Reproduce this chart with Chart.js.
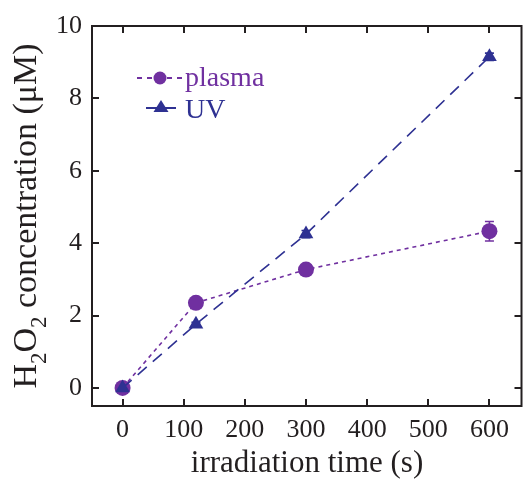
<!DOCTYPE html>
<html>
<head>
<meta charset="utf-8">
<script src="https://cdn.jsdelivr.net/npm/chart.js@4.4.1/dist/chart.umd.min.js"></script>
<style>
html,body{margin:0;padding:0;background:#fff;overflow:hidden;}
#c{display:block;}
</style>
</head>
<body>
<canvas id="c" width="523" height="480" style="width:523px;height:480px"></canvas>
<script>
const xValues = [0, 120, 300, 600];
const plasmaValues = [0, 2.35, 3.27, 4.33];
const plasmaErr = [0.05, 0.08, 0.08, 0.27];
const uvValues = [0, 1.76, 4.25, 9.15];
const uvErr = [0.05, 0.05, 0.1, 0.1];
const xTicks = [0, 100, 200, 300, 400, 500, 600];
const yTicks = [0, 2, 4, 6, 8, 10];
const seriesNames = ['plasma', 'UV'];
const xTitle = 'irradiation time (s)';

const PURPLE = '#7030a0';
const BLUE = '#2e3192';
const INK = '#231f20';
const SERIF = '"Liberation Serif", "Times New Roman", serif';

const pts = (ys) => xValues.map((x, i) => ({x: x, y: ys[i]}));

const decor = {
  id: 'decor',
  beforeDatasetsDraw(chart) {
    const ctx = chart.ctx, xs = chart.scales.x, ys = chart.scales.y;
    const sets = [[plasmaValues, plasmaErr, PURPLE], [uvValues, uvErr, BLUE]];
    ctx.save();
    ctx.lineWidth = 1.6;
    sets.forEach(([vals, errs, col]) => {
      ctx.strokeStyle = col;
      vals.forEach((v, i) => {
        const px = xs.getPixelForValue(xValues[i]);
        const y1 = ys.getPixelForValue(v + errs[i]);
        const y2 = ys.getPixelForValue(v - errs[i]);
        ctx.beginPath();
        ctx.moveTo(px, y1); ctx.lineTo(px, y2);
        ctx.moveTo(px - 4.5, y1); ctx.lineTo(px + 4.5, y1);
        ctx.moveTo(px - 4.5, y2); ctx.lineTo(px + 4.5, y2);
        ctx.stroke();
      });
    });
    ctx.restore();
  },
  afterDraw(chart) {
    const ctx = chart.ctx, a = chart.chartArea, xs = chart.scales.x, ys = chart.scales.y;
    ctx.save();
    const right = chart.width - 1.5;
    ctx.strokeStyle = INK;
    ctx.lineWidth = 2;
    ctx.strokeRect(a.left, a.top, right - a.left, a.bottom - a.top);
    const TL = 7;
    ctx.beginPath();
    xTicks.forEach(v => {
      const p = Math.round(xs.getPixelForValue(v));
      ctx.moveTo(p, a.bottom); ctx.lineTo(p, a.bottom - TL);
      ctx.moveTo(p, a.top); ctx.lineTo(p, a.top + TL);
    });
    yTicks.forEach(v => {
      const p = Math.round(ys.getPixelForValue(v));
      ctx.moveTo(a.left, p); ctx.lineTo(a.left + TL, p);
      ctx.moveTo(right, p); ctx.lineTo(right - TL, p);
    });
    ctx.stroke();

    // x title
    ctx.fillStyle = INK;
    ctx.font = '31px ' + SERIF;
    ctx.textAlign = 'center';
    ctx.textBaseline = 'alphabetic';
    ctx.fillText(xTitle, 307, 472);

    // y title with subscripts
    const parts = [['H', 0], ['2', 1], ['O', 0], ['2', 1], [' concentration (\u03bcM)', 0]];
    const big = '34px ' + SERIF, small = '23px ' + SERIF;
    let total = 0;
    parts.forEach(([t, s]) => { ctx.font = s ? small : big; total += ctx.measureText(t).width; });
    ctx.translate(36, 216);
    ctx.rotate(-Math.PI / 2);
    ctx.textAlign = 'left';
    let cx = -total / 2;
    parts.forEach(([t, s]) => {
      ctx.font = s ? small : big;
      ctx.fillText(t, cx, s ? 10 : 0);
      cx += ctx.measureText(t).width;
    });
    ctx.setTransform(1, 0, 0, 1, 0, 0);

    // legend
    ctx.lineWidth = 1.8;
    ctx.strokeStyle = PURPLE;
    ctx.setLineDash([5, 5]);
    ctx.beginPath(); ctx.moveTo(137, 78); ctx.lineTo(182, 78); ctx.stroke();
    ctx.setLineDash([]);
    ctx.fillStyle = PURPLE;
    ctx.beginPath(); ctx.arc(160, 78, 6.5, 0, Math.PI * 2); ctx.fill();
    ctx.font = '28px ' + SERIF;
    ctx.textAlign = 'left';
    ctx.fillText(seriesNames[0], 185, 86);
    ctx.strokeStyle = BLUE;
    ctx.setLineDash([12, 6]);
    ctx.beginPath(); ctx.moveTo(146, 108); ctx.lineTo(178, 108); ctx.stroke();
    ctx.setLineDash([]);
    ctx.fillStyle = BLUE;
    ctx.beginPath();
    ctx.moveTo(161, 100); ctx.lineTo(168.5, 112); ctx.lineTo(153.5, 112); ctx.closePath(); ctx.fill();
    ctx.fillText(seriesNames[1], 185, 118);
    ctx.restore();
  }
};

new Chart(document.getElementById('c'), {
  type: 'scatter',
  data: {
    datasets: [
      {
        label: seriesNames[0], data: pts(plasmaValues), order: 1,
        showLine: true, borderColor: PURPLE, backgroundColor: PURPLE,
        borderWidth: 1.6, borderDash: [4, 4], pointStyle: 'circle',
        pointRadius: 8, pointBorderWidth: 0, pointHoverRadius: 8
      },
      {
        label: seriesNames[1], data: pts(uvValues), order: 0,
        showLine: true, borderColor: BLUE, backgroundColor: BLUE,
        borderWidth: 1.6, borderDash: [12, 8], pointStyle: 'triangle',
        pointRadius: 8.5, pointBorderWidth: 0, pointHoverRadius: 8.5
      }
    ]
  },
  options: {
    responsive: false, animation: false, devicePixelRatio: 1,
    layout: {padding: {top: 26, right: 0, left: 0, bottom: 0}},
    plugins: {legend: {display: false}, tooltip: {enabled: false}},
    scales: {
      x: {
        type: 'linear', min: -50, max: 641,
        afterBuildTicks: s => { s.ticks = xTicks.map(v => ({value: v})); },
        afterFit: s => { s.height = 74; },
        grid: {display: false, drawTicks: false}, border: {display: false},
        ticks: {font: {family: SERIF, size: 26}, color: INK, padding: 9, maxRotation: 0, autoSkip: false}
      },
      y: {
        type: 'linear', min: -0.5, max: 10,
        afterBuildTicks: s => { s.ticks = yTicks.map(v => ({value: v})); },
        afterFit: s => { s.width = 92; },
        grid: {display: false, drawTicks: false}, border: {display: false},
        ticks: {font: {family: SERIF, size: 26}, color: INK, padding: 10, autoSkip: false}
      }
    }
  },
  plugins: [decor]
});
</script>
</body>
</html>
